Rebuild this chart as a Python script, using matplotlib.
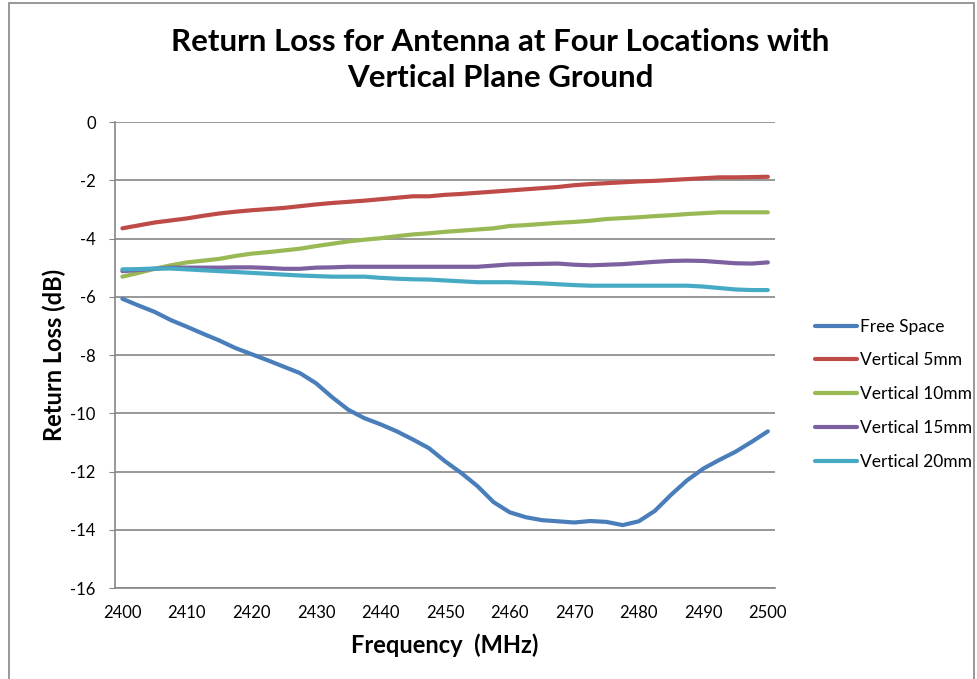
import matplotlib
matplotlib.use('Agg')
import matplotlib.pyplot as plt
import numpy as np

# frequency grid (MHz), 2.5 MHz steps
freq = [2400 + 2.5 * i for i in range(41)]

free_space = [-6.07, -6.30, -6.52, -6.80, -7.03, -7.27, -7.50, -7.76, -7.97, -8.18,
              -8.40, -8.62, -8.97, -9.45, -9.88, -10.17, -10.38, -10.62, -10.90, -11.20,
              -11.65, -12.05, -12.50, -13.05, -13.40, -13.57, -13.67, -13.71, -13.75, -13.70,
              -13.73, -13.84, -13.71, -13.35, -12.80, -12.30, -11.90, -11.60, -11.32, -10.98,
              -10.62]
vert_5mm = [-3.65, -3.55, -3.45, -3.38, -3.31, -3.22, -3.14, -3.08, -3.03, -2.99,
            -2.95, -2.89, -2.83, -2.78, -2.74, -2.70, -2.65, -2.60, -2.55, -2.55,
            -2.50, -2.47, -2.43, -2.39, -2.35, -2.31, -2.27, -2.23, -2.17, -2.13,
            -2.10, -2.07, -2.04, -2.02, -1.99, -1.96, -1.93, -1.90, -1.90, -1.89,
            -1.88]
vert_10mm = [-5.31, -5.18, -5.04, -4.92, -4.82, -4.76, -4.70, -4.60, -4.52, -4.47,
             -4.41, -4.35, -4.26, -4.18, -4.10, -4.04, -3.99, -3.92, -3.86, -3.82,
             -3.77, -3.73, -3.69, -3.65, -3.57, -3.54, -3.50, -3.46, -3.43, -3.39,
             -3.33, -3.30, -3.27, -3.23, -3.20, -3.16, -3.13, -3.10, -3.10, -3.10,
             -3.10]
vert_15mm = [-5.12, -5.08, -5.04, -5.00, -5.00, -5.00, -5.00, -4.99, -4.99, -5.01,
             -5.04, -5.04, -5.00, -4.99, -4.97, -4.97, -4.97, -4.97, -4.97, -4.97,
             -4.97, -4.97, -4.97, -4.93, -4.89, -4.88, -4.87, -4.86, -4.90, -4.92,
             -4.90, -4.88, -4.84, -4.80, -4.77, -4.76, -4.77, -4.81, -4.85, -4.86,
             -4.82]
vert_20mm = [-5.06, -5.05, -5.03, -5.03, -5.06, -5.09, -5.12, -5.15, -5.18, -5.21,
             -5.24, -5.27, -5.29, -5.31, -5.31, -5.31, -5.35, -5.38, -5.40, -5.41,
             -5.44, -5.47, -5.50, -5.50, -5.50, -5.52, -5.54, -5.57, -5.60, -5.62,
             -5.62, -5.62, -5.62, -5.62, -5.62, -5.62, -5.65, -5.70, -5.75, -5.77,
             -5.77]

series = [
    ('Free Space', free_space, '#4A7EBB'),
    ('Vertical 5mm', vert_5mm, '#BE4B48'),
    ('Vertical 10mm', vert_10mm, '#98B954'),
    ('Vertical 15mm', vert_15mm, '#7D60A0'),
    ('Vertical 20mm', vert_20mm, '#46AAC5'),
]
x_ticks = [2400, 2410, 2420, 2430, 2440, 2450, 2460, 2470, 2480, 2490, 2500]
y_ticks = [0, -2, -4, -6, -8, -10, -12, -14, -16]

plt.rcParams['font.family'] = ['Lato', 'DejaVu Sans']
plt.rcParams['axes.unicode_minus'] = False
grid_col = '#868686'

fig = plt.figure(figsize=(9.77, 6.79), dpi=100)
ax = fig.add_axes([0.118, 0.134, 0.7932 - 0.118, 0.8203 - 0.134])

for name, vals, col in series:
    ax.plot(freq, vals, color=col, lw=3, label=name, solid_capstyle='round')

ax.set_xlim(2398.9, 2501.1)
ax.set_ylim(-16, 0)
ax.set_xticks(x_ticks)
ax.set_yticks(y_ticks)
ax.yaxis.grid(True, color=grid_col, lw=1.2)
ax.set_axisbelow(True)
for s in ['top', 'right']:
    ax.spines[s].set_visible(False)
for s in ['left', 'bottom']:
    ax.spines[s].set_color(grid_col)
    ax.spines[s].set_linewidth(1.2)
ax.tick_params(axis='y', length=4, color=grid_col, labelsize=12, pad=10)
ax.tick_params(axis='x', length=0, labelsize=12, pad=12)

ax.set_xlabel('Frequency  (MHz)', fontsize=17, fontweight='bold', labelpad=9)
ax.set_ylabel('Return Loss (dB)', fontsize=17, fontweight='bold', labelpad=3)

fig.text(0.512, 0.912, 'Return Loss for Antenna at Four Locations with\nVertical Plane Ground',
         ha='center', va='center', fontsize=22.5, fontweight='bold', linespacing=1.35)

ax.legend(loc='upper left', bbox_to_anchor=(0.827, 0.541), bbox_transform=fig.transFigure,
          frameon=False, fontsize=12.5, handlelength=2.4, handletextpad=0.2,
          labelspacing=1.03, borderaxespad=0)

# chart border like the spreadsheet frame
fig.add_artist(plt.Rectangle((9 / 977, -0.01), (974 - 9) / 977, 1 - 3 / 679 + 0.01,
                             transform=fig.transFigure, fill=False,
                             edgecolor=grid_col, lw=1.2))

fig.savefig('out.png', dpi=100)
